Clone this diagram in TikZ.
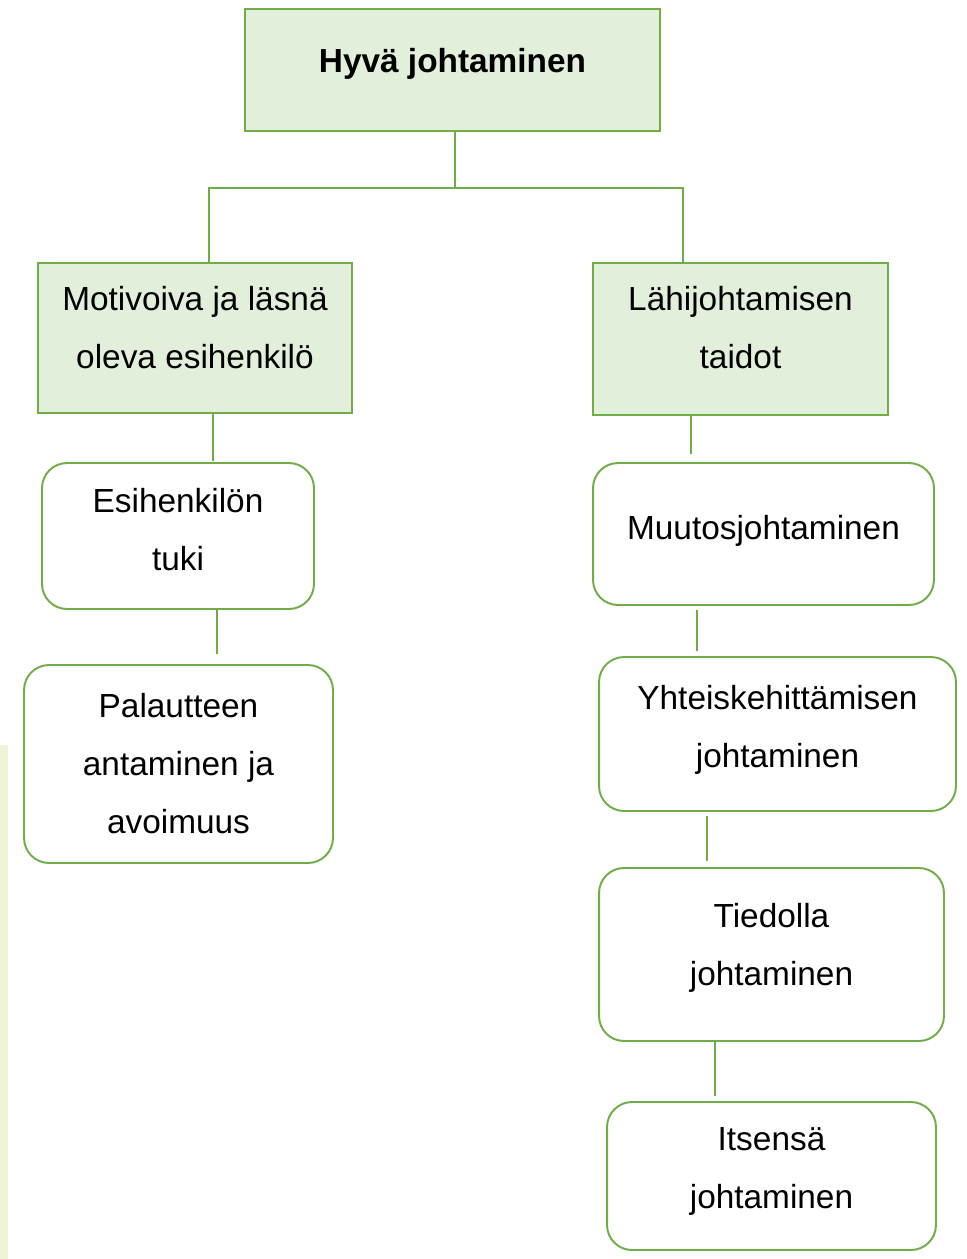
\documentclass[tikz,border=0pt]{standalone}
\usepackage{fontspec}
\setmainfont{Liberation Sans}
\usetikzlibrary{calc}

\definecolor{leafgreen}{HTML}{70AD47}
\definecolor{palegreen}{HTML}{E2EFDA}
\definecolor{stripyellow}{HTML}{EEF4D6}

% extra depth under the last text line, lifts the text inside its box
\newcommand{\tailgap}[1]{\rule[-#1]{0pt}{0pt}}

\begin{document}
\begin{tikzpicture}[x=0.02cm, y=-0.02cm,
	font=\fontsize{19}{33}\selectfont,
	head/.style={draw=leafgreen, fill=palegreen, line width=1.1pt, inner sep=0pt, align=center},
	leaf/.style={draw=leafgreen, fill=white, line width=1.1pt, rounded corners=0.5cm, inner sep=0pt, align=center},
	link/.style={draw=leafgreen, line width=1.1pt}]
	
	\useasboundingbox (0,0) rectangle (967,1259);
	
	% --- 1. Pale strip at the left edge ---
	\fill[stripyellow] (0,745) rectangle (8,1259);
	
	% --- 2. Top box and the two main branches ---
	\node[head, minimum width=8.3cm, minimum height=2.44cm] (hyva) at (452.5,70)
	{\textbf{Hyvä johtaminen}\tailgap{11.4pt}};
	
	\node[head, minimum width=6.28cm, minimum height=3cm] (motivoiva) at (195,338)
	{Motivoiva ja läsnä\\oleva esihenkilö\tailgap{12pt}};
	\node[head, minimum width=5.9cm, minimum height=3.04cm] (lahi) at (740.5,339)
	{Lähijohtamisen\\taidot\tailgap{13.7pt}};
	
	% --- 3. Left column ---
	\node[leaf, minimum width=5.44cm, minimum height=2.92cm] (tuki) at (178,536)
	{Esihenkilön\\tuki\tailgap{8pt}};
	\node[leaf, minimum width=6.18cm, minimum height=3.96cm] (palaute) at (178.5,764)
	{Palautteen\\antaminen ja\\avoimuus\tailgap{1.1pt}};
	
	% --- 4. Right column ---
	\node[leaf, minimum width=6.82cm, minimum height=2.84cm] (muutos) at (763.5,534)
	{Muutosjohtaminen\tailgap{8pt}};
	\node[leaf, minimum width=7.14cm, minimum height=3.08cm] (yhteis) at (777.5,734)
	{Yhteiskehittämisen\\johtaminen\tailgap{9.1pt}};
	\node[leaf, minimum width=6.9cm, minimum height=3.46cm] (tieto) at (771.5,954.5)
	{Tiedolla\\johtaminen\tailgap{12pt}};
	\node[leaf, minimum width=6.58cm, minimum height=2.96cm] (itse) at (771.5,1176)
	{Itsensä\\johtaminen\tailgap{9.1pt}};
	
	% --- 5. Connectors ---
	\coordinate (split) at (455,188);
	\draw[link] (hyva.south -| split) -- (split);
	\draw[link] (split) -| ($(motivoiva.north)+(14,0)$);
	\draw[link] (split) -| ($(lahi.north)+(-57.5,0)$);
	
	% upper node / lower node / x offsets / gaps at both ends
	\foreach \up/\down/\dup/\ddown/\sa/\sb in {
		motivoiva/tuki/18/35/0cm/0.02cm,
		tuki/palaute/39/38.5/0cm/0.2cm,
		lahi/muutos/-49.5/-72.5/0cm/0.16cm,
		muutos/yhteis/-66.5/-80.5/0.08cm/0.1cm,
		yhteis/tieto/-70.5/-64.5/0.08cm/0.12cm,
		tieto/itse/-56.5/-56.5/0cm/0.1cm} {
		\draw[link, shorten <=\sa, shorten >=\sb] ($(\up.south)+(\dup,0)$) -- ($(\down.north)+(\ddown,0)$);
	}
	
\end{tikzpicture}
\end{document}
